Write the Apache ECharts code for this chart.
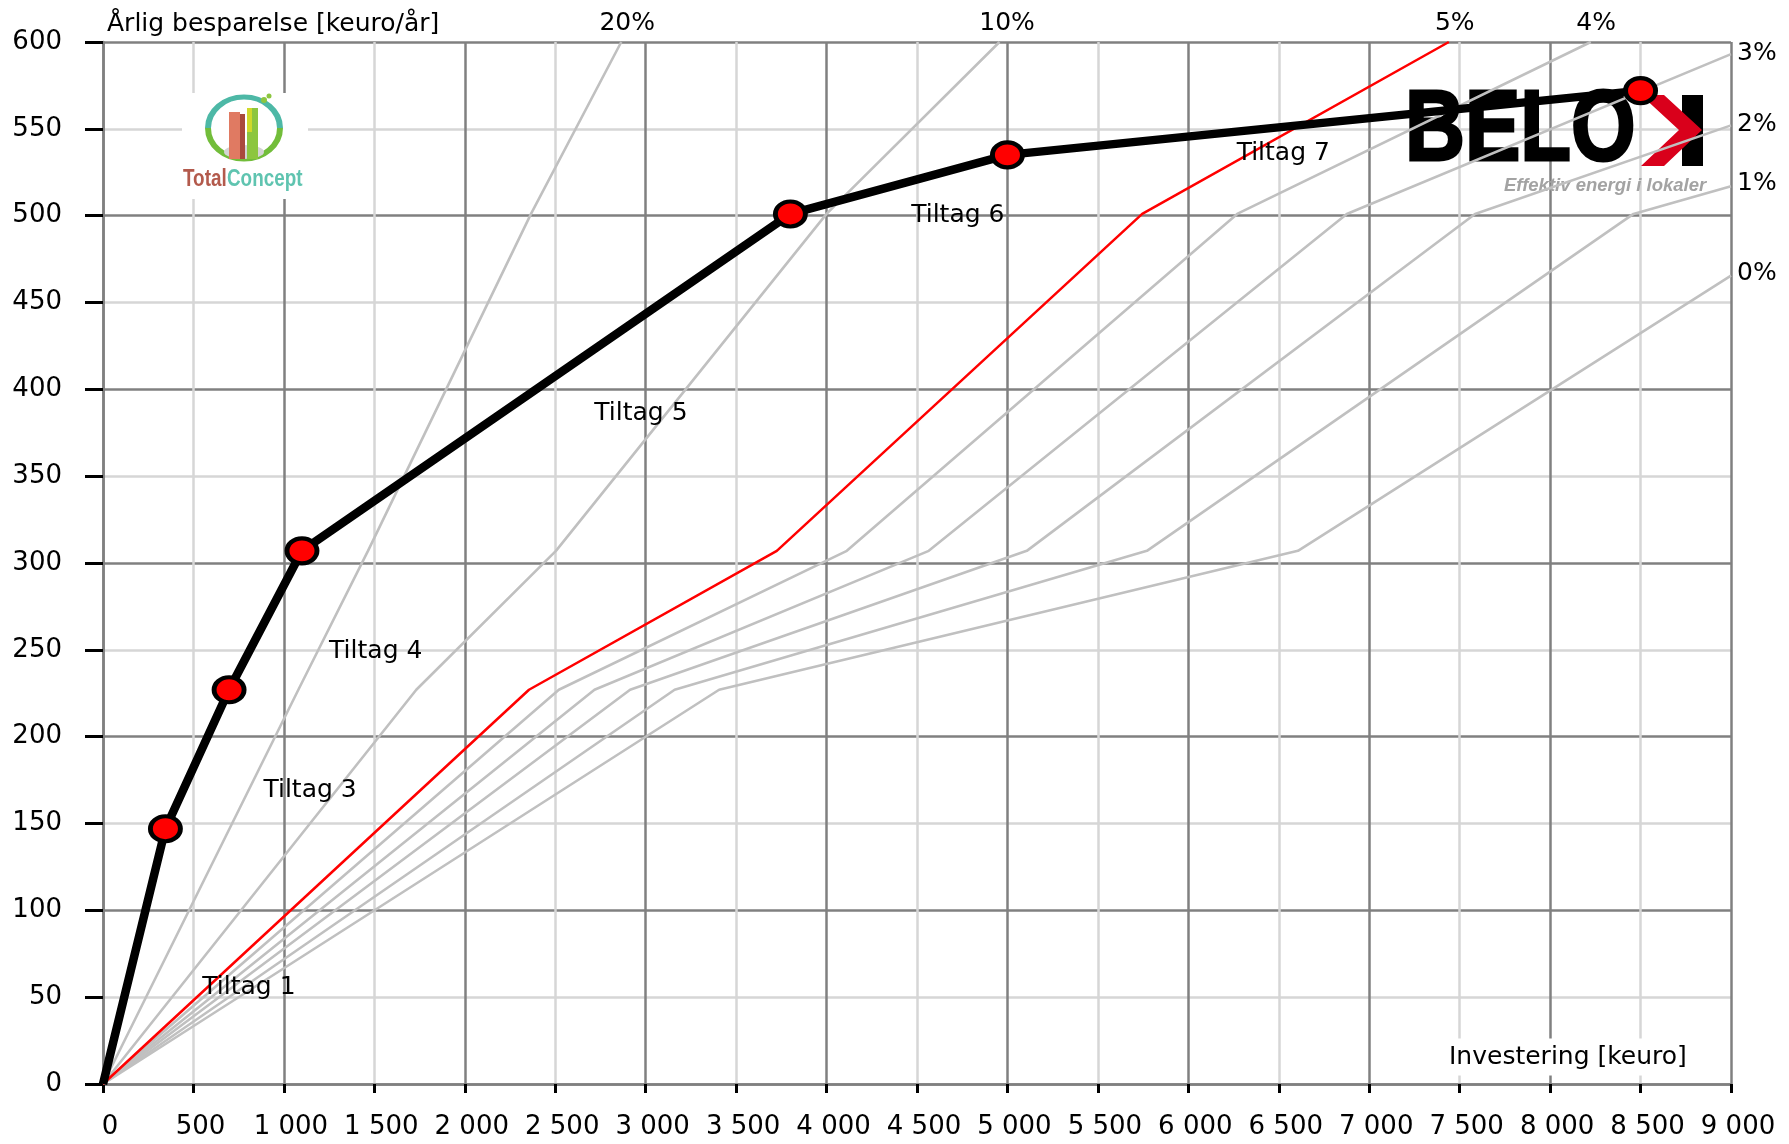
<!DOCTYPE html>
<html>
<head>
<meta charset="utf-8">
<script src="https://cdn.jsdelivr.net/npm/echarts@6/dist/echarts.min.js"></script>
<style>
  html, body { margin: 0; padding: 0; background: #fff; }
  #Charts { width: 1789px; height: 1144px; }
</style>
</head>
<body>
<div id="Charts"></div>
<script>
// Tiltag curve: cumulative investment [keuro] vs cumulative annual saving [keuro/år]
const tiltagInvest = [0, 345, 697, 1100, 3800, 5000, 8500];
const tiltagSaving = [0, 147, 227, 307, 501, 535, 572];

// profitability lines per interest rate, [investering, besparelse]
const rate20 = [[0, 0], [1080, 227], [1465, 307], [2366, 501], [2865, 600]];
const rate10 = [[0, 0], [1732, 227], [2504, 307], [4000, 501], [4956, 600]];
const rate5 = [[0, 0], [2355, 227], [3725, 307], [5745, 501], [7440, 600]];
const rate4 = [[0, 0], [2520, 227], [4112, 307], [6270, 501], [8225, 600]];
const rate3 = [[0, 0], [2717, 227], [4565, 307], [6876, 501], [9000, 593]];
const rate2 = [[0, 0], [2914, 227], [5107, 307], [7585, 501], [9000, 552]];
const rate1 = [[0, 0], [3160, 227], [5771, 307], [8461, 501], [9000, 517]];
const rate0 = [[0, 0], [3406, 227], [6606, 307], [9000, 465.5]];

// label texts and their anchors in data units
const topRateLabels = [['20%', 2898, 610.5], ['10%', 4998, 610.5], ['5%', 7473, 610.5], ['4%', 8254, 610.5]];
const sideRateLabels = [['3%', 9000, 593.6], ['2%', 9000, 552.3], ['1%', 9000, 518.8], ['0%', 9000, 466.9]];
const tiltagLabels = [
  ['Tiltag 1', 549, 55.4],
  ['Tiltag 3', 887, 169.2],
  ['Tiltag 4', 1250, 249],
  ['Tiltag 5', 2716, 386],
  ['Tiltag 6', 4468, 500],
  ['Tiltag 7', 6267, 536]
];

const FONT = 'DejaVu Sans';
const ellipse = 'path://M0,50 A50,50 0 1,1 100,50 A50,50 0 1,1 0,50 Z';

function fmtThousands(v) {
  if (v < 1000) return String(v);
  return Math.floor(v / 1000) + ' ' + String(v % 1000).padStart(3, '0');
}

function grayLine(data) {
  return {
    type: 'line',
    data: data,
    showSymbol: false,
    silent: true,
    z: 2,
    lineStyle: { color: '#c0c0c0', width: 2.6 }
  };
}

function textSeries(list, labelOpt) {
  return {
    type: 'scatter',
    silent: true,
    clip: false,
    symbolSize: 0,
    z: 6,
    data: list.map(d => ({ name: d[0], value: [d[1], d[2]] })),
    label: Object.assign({
      show: true,
      formatter: p => p.name,
      color: '#000',
      opacity: 1,
      textBorderWidth: 0,
      fontFamily: FONT,
      fontSize: 25
    }, labelOpt)
  };
}

let chart = echarts.init(document.getElementById('Charts'));
let option = {
  animation: false,
  backgroundColor: '#fff',
  grid: { left: 103, top: 42, width: 1628, height: 1042, containLabel: false, outerBoundsMode: 'none' },
  xAxis: {
    type: 'value',
    min: 0,
    max: 9000,
    interval: 500,
    axisLine: { show: true, lineStyle: { color: '#808080', width: 2.5 } },
    axisTick: { show: true, length: 9, lineStyle: { color: '#000', width: 3 } },
    axisLabel: {
      color: '#000',
      fontFamily: FONT,
      fontSize: 26,
      margin: 30,
      padding: [0, 0, 0, 14],
      formatter: fmtThousands
    },
    splitLine: { show: true, lineStyle: { color: ['#808080', '#d6d6d6'], width: 2.5 } }
  },
  yAxis: {
    type: 'value',
    min: 0,
    max: 600,
    interval: 50,
    axisLine: { show: true, lineStyle: { color: '#808080', width: 2.5 } },
    axisTick: { show: true, length: 18, lineStyle: { color: '#000', width: 3 } },
    axisLabel: { color: '#000', fontFamily: FONT, fontSize: 26, margin: 41 },
    splitLine: { show: true, lineStyle: { color: ['#808080', '#d6d6d6'], width: 2.5 } }
  },
  graphic: [
    // axis titles
    { type: 'text', x: 107, y: 24, z: 1, style: { text: 'Årlig besparelse [keuro/år]', font: '25px "DejaVu Sans"', fill: '#000', align: 'left', verticalAlign: 'middle' } },
    { type: 'text', x: 1445, y: 1057, z: 1, style: { text: 'Investering [keuro]', font: '25px "DejaVu Sans"', fill: '#000', align: 'left', verticalAlign: 'middle', backgroundColor: '#fff', padding: [6, 4] } },
    // TotalConcept logo
    { type: 'rect', z: 1, shape: { x: 182, y: 93, width: 126, height: 106 }, style: { fill: '#fff' } },
    { type: 'arc', z: 1, originX: 244, originY: 128, scaleY: 0.86, shape: { cx: 244, cy: 128, r: 36, startAngle: Math.PI, endAngle: Math.PI * 2 }, style: { stroke: '#4db8a6', lineWidth: 6, fill: null } },
    { type: 'arc', z: 1, originX: 244, originY: 128, scaleY: 0.86, shape: { cx: 244, cy: 128, r: 36, startAngle: 0, endAngle: Math.PI }, style: { stroke: '#72bd3a', lineWidth: 6, fill: null } },
    { type: 'circle', z: 1, originX: 244, originY: 152, scaleY: 0.35, shape: { cx: 244, cy: 152, r: 20 }, style: { fill: '#d4d4d4' } },
    { type: 'rect', z: 1, shape: { x: 229, y: 112, width: 11, height: 47 }, style: { fill: '#e07a62' } },
    { type: 'rect', z: 1, shape: { x: 240, y: 114, width: 5, height: 45 }, style: { fill: '#a94a3c' } },
    { type: 'rect', z: 1, shape: { x: 247, y: 108, width: 11, height: 51 }, style: { fill: '#8cc63f' } },
    { type: 'rect', z: 1, shape: { x: 247, y: 108, width: 5, height: 24 }, style: { fill: '#cfd92a' } },
    { type: 'circle', z: 1, shape: { cx: 264, cy: 100, r: 3 }, style: { fill: '#8cc63f' } },
    { type: 'circle', z: 1, shape: { cx: 269, cy: 96, r: 2.5 }, style: { fill: '#8cc63f' } },
    { type: 'text', x: 183, y: 180, z: 1, scaleX: 0.82, style: { text: 'Total', font: 'bold 23px "Liberation Sans"', fill: '#b35a4c', align: 'left', verticalAlign: 'middle' } },
    { type: 'text', x: 227, y: 180, z: 1, scaleX: 0.82, style: { text: 'Concept', font: 'bold 23px "Liberation Sans"', fill: '#5fc4b0', align: 'left', verticalAlign: 'middle' } },
    // BELOK logo
    { type: 'text', x: 1405, y: 132, z: 1, scaleX: 0.83, style: { text: 'BELO', font: 'bold 100px "Liberation Sans"', fill: '#000', stroke: '#000', lineWidth: 3, align: 'left', verticalAlign: 'middle' } },
    { type: 'rect', z: 1, shape: { x: 1682, y: 95, width: 21, height: 71 }, style: { fill: '#000' } },
    { type: 'polygon', z: 1, shape: { points: [[1641, 95], [1664, 95], [1702, 130], [1664, 166], [1641, 166], [1679, 130]] }, style: { fill: '#d9001b' } },
    { type: 'text', x: 1504, y: 186, z: 1, style: { text: 'Effektiv energi i lokaler', font: 'italic bold 18.5px "Liberation Sans"', fill: '#a3a3a3', align: 'left', verticalAlign: 'middle' } }
  ],
  series: [
    grayLine(rate0),
    grayLine(rate1),
    grayLine(rate2),
    grayLine(rate3),
    grayLine(rate4),
    grayLine(rate10),
    grayLine(rate20),
    {
      type: 'line',
      data: rate5,
      showSymbol: false,
      silent: true,
      z: 3,
      lineStyle: { color: '#ff0000', width: 2.5 }
    },
    {
      type: 'line',
      data: tiltagInvest.map((x, i) => [x, tiltagSaving[i]]),
      showSymbol: false,
      silent: true,
      z: 4,
      lineStyle: { color: '#000', width: 8.5 }
    },
    {
      type: 'scatter',
      data: tiltagInvest.slice(1).map((x, i) => [x, tiltagSaving[i + 1]]),
      symbol: ellipse,
      symbolSize: [30, 25],
      silent: true,
      z: 5,
      itemStyle: { color: '#ff0000', borderColor: '#000', borderWidth: 4.5, opacity: 1 }
    },
    textSeries(topRateLabels, { position: 'inside' }),
    textSeries(sideRateLabels, { position: 'right', distance: 6 }),
    textSeries(tiltagLabels, { position: 'right', distance: 0, fontSize: 25 })
  ]
};
chart.setOption(option);
</script>
</body>
</html>
